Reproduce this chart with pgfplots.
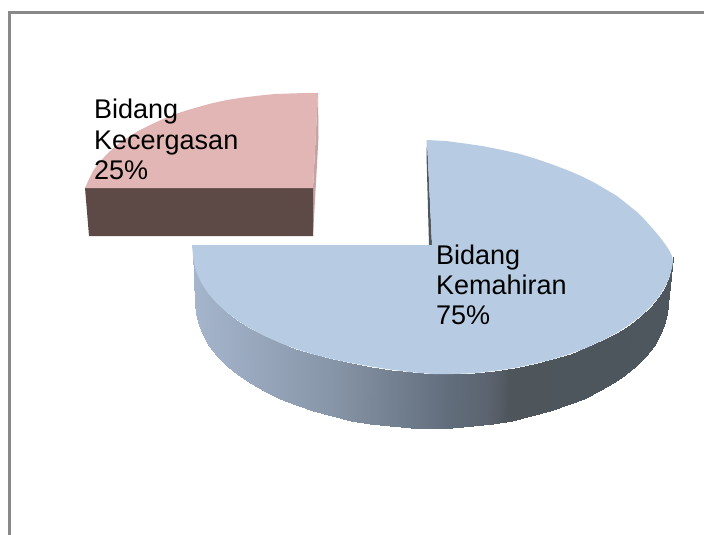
\documentclass[border=0pt]{standalone}
\usepackage{pgfplots}
\pgfplotsset{compat=1.18}
\usepackage{fontspec}
\setmainfont{Liberation Sans}
\definecolor{blueTop}{RGB}{183,204,226}
\definecolor{pinkTop}{RGB}{226,182,180}
\definecolor{pinkSide}{RGB}{196,163,162}
\definecolor{brownFront}{RGB}{93,74,71}
\definecolor{innerDark}{RGB}{78,86,94}
\definecolor{frameGrey}{RGB}{137,137,137}
\begin{document}
\begin{tikzpicture}
\path[use as bounding box] (0,0) rectangle (704pt,535pt);
\begin{axis}[
  at={(0,0)}, anchor=south west,
  scale only axis, width=704pt, height=535pt,
  xmin=0, xmax=704, ymin=0, ymax=535, y dir=reverse,
  hide axis, clip=true,
  colormap={sidegrad}{rgb255(0pt)=(165,181,204); rgb255(137pt)=(136,150,169); rgb255(257pt)=(97,109,123); rgb255(297pt)=(92,99,112); rgb255(317pt)=(78,86,92); rgb255(480pt)=(78,86,94)},
  point meta min=193, point meta max=673,
]
% frame
\addplot[frameGrey, line width=3pt] coordinates {(9,535) (9,12.5) (704,12.5)};
% detached slice (25%): side strip, front, top
\addplot[draw=none, fill=pinkSide] coordinates {(318,93) (318.5,137) (313,236) (313,188)} -- cycle;
\addplot[draw=none, fill=brownFront] coordinates {(85,188) (313,188) (313,236) (89,236)} -- cycle;
\addplot[draw=none, fill=pinkTop] coordinates {(318,93) (304,93) (290,93.5) (275,94) (260,95.5) (243,97.5) (227,100) (213,103) (200,106.5) (188,110) (177,113.5) (163,119) (150,125) (138,131) (127,138) (117,145) (108,153) (100,161.5) (93,171) (88.5,180) (85,188) (313,188)} -- cycle;
% main slice (75%): inner sliver, outer wall, top
\addplot[draw=none, fill=innerDark] coordinates {(427,140) (426.5,155) (429,245) (432,245)} -- cycle;
\addplot[surf, shader=interp, mesh/rows=2, point meta=explicit] table[meta=c] {
x y c
193 252 193
193.9 262.3 194
196.6 272.5 197
201.2 282.5 201
207.5 292.4 208
215.5 301.9 216
225.2 311 225
236.4 319.7 236
249.1 327.8 249
263.3 335.4 263
278.7 342.4 279
295.3 348.7 295
313 354.2 313
331.6 359 332
350.9 363 351
370.9 366.5 371
391.3 369.7 391
412.1 372.3 412
433 374 433
453.9 374 454
474.7 373.2 475
495.1 370.8 495
515.1 367.9 515
534.4 363.8 534
553 359.2 553
570.7 353.6 571
587.3 347.4 587
602.7 340.3 603
616.9 332.8 617
629.6 324.5 630
640.8 316 641
650.5 306.8 651
658.5 297.4 659
664.8 287.5 665
669.4 277.5 669
672.1 267.2 672
673 257 673
195 303 193
195.9 313.9 194
198.6 324.7 197
203.1 335.4 201
209.2 345.8 208
217.2 355.8 216
226.7 365.5 225
237.8 374.7 236
250.3 383.4 249
264.3 391.4 263
279.5 398.8 279
295.9 405.4 295
313.3 411.3 313
331.6 416.3 332
350.6 420.5 351
370.3 423.7 371
390.4 426.1 391
410.9 427.5 412
431.5 428 433
452.1 427.5 454
472.6 426.1 475
492.7 423.7 495
512.4 420.5 515
531.4 416.3 534
549.8 411.3 553
567.1 405.4 571
583.5 398.8 587
598.7 391.4 603
612.7 383.4 617
625.2 374.7 630
636.3 365.5 641
645.8 355.8 651
653.8 345.8 659
659.9 335.4 665
664.4 324.7 669
667.1 313.9 672
668 303 673
};
\addplot[draw=none, fill=blueTop] coordinates {
(427,140) (446,141) (465,143.5) (482,146) (500,149.5) (518,153.5) (535,158.5) (551,164) (567,170) (581,176) (595,183) (606,189.5) (617,196) (627,204) (637,212) (645,220) (653,229) (659,236) (665,244) (669,250) (672,256) (673,262)
(672.1,267.2) (669.4,277.5) (664.8,287.5) (658.5,297.4) (650.5,306.8) (640.8,316) (629.6,324.5) (616.9,332.8) (602.7,340.3) (587.3,347.4) (570.7,353.6) (553,359.2) (534.4,363.8) (515.1,367.9) (495.1,370.8) (474.7,373.2) (453.9,374) (433,374) (412.1,372.3) (391.3,369.7) (370.9,366.5) (350.9,363) (331.6,359) (313,354.2) (295.3,348.7) (278.7,342.4) (263.3,335.4) (249.1,327.8) (236.4,319.7) (225.2,311) (215.5,301.9) (207.5,292.4) (201.2,282.5) (196.6,272.5) (193.9,262.3) (193,256)
(192,245) (432,245)} -- cycle;
% labels
\node[anchor=base west, inner sep=0pt, font=\fontsize{27pt}{30pt}\selectfont] at (axis cs:94,118.5) {Bidang};
\node[anchor=base west, inner sep=0pt, font=\fontsize{27pt}{30pt}\selectfont] at (axis cs:94,149) {Kecergasan};
\node[anchor=base west, inner sep=0pt, font=\fontsize{27pt}{30pt}\selectfont] at (axis cs:94,179.5) {25\%};
\node[anchor=base west, inner sep=0pt, font=\fontsize{27pt}{30pt}\selectfont] at (axis cs:436,264) {Bidang};
\node[anchor=base west, inner sep=0pt, font=\fontsize{27pt}{30pt}\selectfont] at (axis cs:436,294.5) {Kemahiran};
\node[anchor=base west, inner sep=0pt, font=\fontsize{27pt}{30pt}\selectfont] at (axis cs:436,324.5) {75\%};
\end{axis}
\end{tikzpicture}
\end{document}
